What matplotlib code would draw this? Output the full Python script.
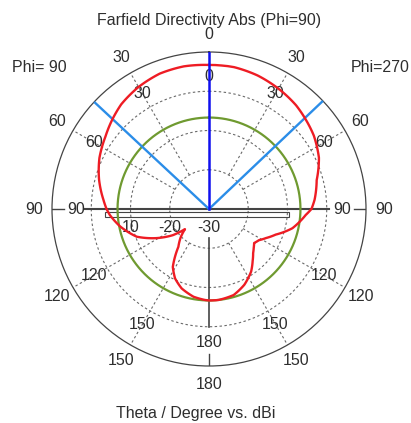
import numpy as np
import matplotlib
matplotlib.use("Agg")
import matplotlib.pyplot as plt
from matplotlib.patches import Rectangle

plt.rcParams['font.family'] = ['Liberation Sans', 'DejaVu Sans']

# ---------------- data ----------------
title = "Farfield Directivity Abs (Phi=90)"
xlabel = "Theta / Degree vs. dBi"
left_label = "Phi= 90"
right_label = "Phi=270"

# Phi=270 half (drawn on the right, theta clockwise from top)
theta_270 = [0, 10, 20, 30, 40, 47, 55, 65, 75, 85, 90, 93.5, 103, 111, 117,
             122, 127, 131, 135, 140, 146, 155, 164, 174, 180]
dbi_270 = [6.7, 6.7, 6.2, 5.4, 4.5, 3.6, 2.6, 0.9, -1.6, -3.0, -3.9, -5.3, -8.2,
           -11.8, -13.7, -15.0, -15.6, -14.9, -14.1, -12.7, -10.8, -8.7, -7.2,
           -6.7, -6.7]

# Phi=90 half (drawn on the left, theta counter-clockwise from top)
theta_90 = [0, 10, 20, 30, 40, 47, 55, 65, 75, 85, 90, 93.5, 101, 111, 119,
            126, 130, 135, 141, 148, 154, 161, 170, 177.5, 180]
dbi_90 = [6.7, 6.9, 6.7, 5.9, 4.8, 3.6, 2.2, 0.8, -1.0, -3.0, -3.9, -4.7, -6.9,
          -10.3, -14.7, -18.7, -22.0, -19.8, -17.6, -12.6, -10.3, -8.6, -7.3,
          -6.8, -6.7]

main_lobe_dir = 0          # deg
beam_3db = [-47, 46.5]     # deg (left, right)
green_level = -6.7         # dBi

r_min, r_max = -30, 10
r_grid = [-20, -10, 0]
angle_ticks = [0, 30, 60, 90, 120, 150, 180]
scale_vals = [-30, -20, -10]
scale_text = ["-30", "-20", "10"]

# ---------------- figure ----------------
W, H = 411, 423
fig = plt.figure(figsize=(W / 100, H / 100), dpi=100)
cx, cy, R = 209, 209, 157
ax = fig.add_axes([(cx - R) / W, (H - cy - R) / H, 2 * R / W, 2 * R / H],
                  projection='polar')
ax.set_theta_zero_location('N')
ax.set_theta_direction(-1)
ax.set_rlim(r_min, r_max)
ax.grid(False)
ax.set_xticks([])
ax.set_yticks([])
ax.spines['polar'].set_color('#444444')
ax.spines['polar'].set_linewidth(0.9)

txt_col = '#2e2e2e'
grid_col = '#6a6a6a'

# dashed grid circles
tt = np.linspace(0, 2 * np.pi, 400)
for rv in r_grid:
    ax.plot(tt, np.full_like(tt, rv), color=grid_col, lw=0.8,
            ls=(0, (2.2, 2.2)), zorder=1)
# dashed spokes
for a in [30, 60, 120, 150, 210, 240, 300, 330]:
    ax.plot([np.radians(a)] * 2, [r_grid[0], r_max], color=grid_col, lw=0.8,
            ls=(0, (2.2, 2.2)), zorder=1)

# outer ticks at 90/180/270
for a in [90, 180, 270]:
    ax.plot([np.radians(a)] * 2, [r_max - 3.0, r_max], color='#444444', lw=1.0,
            zorder=2)

# horizontal axis line
ax.plot([np.radians(270), 0, np.radians(90)], [1.6, r_min, 0.5],
        color='#444444', lw=1.5, zorder=3)
# lower vertical line
ax.plot([np.radians(180)] * 2, [-22.6, 0.0], color='#444444', lw=1.2, zorder=3)

# green circle
ax.plot(tt, np.full_like(tt, green_level), color='#6f9a30', lw=1.6, zorder=4)

# red curve: right half (phi=270) then left half (phi=90) reversed
ang = np.concatenate([np.radians(theta_270),
                      np.radians(360 - np.array(theta_90[::-1]))])
rad = np.concatenate([dbi_270, dbi_90[::-1]])
red, = ax.plot(ang, rad, color='#ee1c24', lw=1.7, zorder=6)
red.get_path()._interpolation_steps = 30   # draw segments along polar arcs

# beam lines
for a in beam_3db:
    ax.plot([np.radians(a)] * 2, [r_min, r_max], color='#2b8de8', lw=1.7, zorder=5)
ax.plot([np.radians(main_lobe_dir)] * 2, [r_min, r_max], color='#1010ee',
        lw=1.8, zorder=7)

# angle labels
r_in = r_min + 133 / R * (r_max - r_min)
r_out = r_min + 175 / R * (r_max - r_min)
fs = 11.5
for a in angle_ticks:
    for side in ([a] if a in (0, 180) else [a, 360 - a]):
        ax.text(np.radians(side), r_in, str(a), ha='center', va='center',
                fontsize=fs, color=txt_col, clip_on=False, zorder=4)
        ax.text(np.radians(side), r_out, str(a), ha='center', va='center',
                fontsize=fs, color=txt_col, clip_on=False, zorder=4)

# radial scale bar + labels
x0 = (105 - (cx - R)) / (2 * R)
x1 = (289 - (cx - R)) / (2 * R)
ytop = (cy + R - 211.5) / (2 * R)
ybot = (cy + R - 217.0) / (2 * R)
ax.add_patch(Rectangle((x0, ybot), x1 - x0, ytop - ybot, transform=ax.transAxes,
                       fill=False, ec='#444444', lw=0.8, zorder=3, clip_on=False))
for v, s in zip(scale_vals, scale_text):
    ax.annotate(s, xy=(np.radians(270), v), xytext=(0, -13),
                textcoords='offset points', ha='center', va='center',
                fontsize=fs, color=txt_col, zorder=4, annotation_clip=False)

# titles
fig.text(209 / W, 1 - 20 / H, title, ha='center', va='center', fontsize=fs,
         color=txt_col)
fig.text(39 / W, 1 - 67 / H, left_label, ha='center', va='center', fontsize=fs,
         color=txt_col)
fig.text(380 / W, 1 - 67 / H, right_label, ha='center', va='center',
         fontsize=fs, color=txt_col)
fig.text(196 / W, 1 - 413 / H, xlabel, ha='center', va='center', fontsize=fs,
         color=txt_col)

fig.savefig('out.png', dpi=100)
